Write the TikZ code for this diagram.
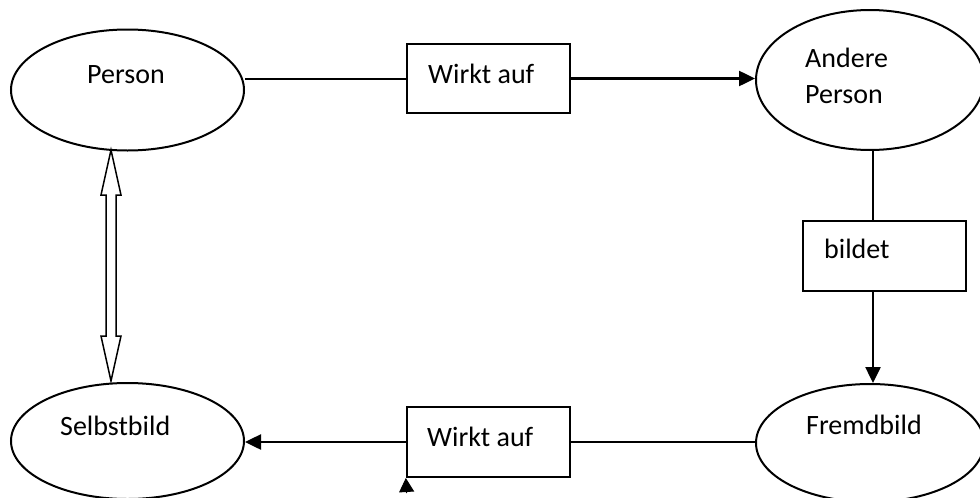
\documentclass[tikz,border=0pt]{standalone}
\usepackage{fontspec}
\setmainfont{Carlito}
\usetikzlibrary{arrows.meta,calc,shapes.geometric}
\tikzset{
  shape line/.style={draw=black,line width=2pt},
  blob/.style={shape line,ellipse,inner sep=0pt},
  labelbox/.style={shape line,rectangle,inner sep=0pt,minimum width=163pt},
  txt/.style={inner sep=0pt,anchor=base west,font=\fontsize{28}{36}\selectfont},
  plain/.style={line width=2pt},
  arr/.style={line width=2.5pt,-{Triangle[length=16pt,width=15pt]}},
}
\begin{document}
\begin{tikzpicture}[x=1pt,y=-1pt]
\useasboundingbox (0,0) rectangle (980,498);
% ellipses
\node[blob,minimum width=233pt,minimum height=121pt] (person) at (127.5,90) {};
\node[blob,minimum width=233pt,minimum height=116pt] (selbst) at (127.5,441) {};
\node[blob,minimum width=228pt,minimum height=140pt] (andere) at (870,80) {};
\node[blob,minimum width=228pt,minimum height=118pt] (fremd) at (870,443) {};
% boxes
\node[labelbox,minimum height=69pt] (wirk1) at (488.3,78.5) {};
\node[labelbox,minimum height=70pt] (bildet) at (884.5,256) {};
\node[labelbox,minimum height=70pt] (wirk2) at (488.3,442) {};
% texts
\node[txt] (tperson) at (87,83) {Person};
\node[txt] (tselbst) at (60,435) {Selbstbild};
\node[txt] (tandere1) at (805,67) {Andere};
\node[txt] (tandere2) at (805,103) {Person};
\node[txt] (tfremd) at (806,434) {Fremdbild};
\node[txt] (twirk1) at (428,83) {Wirkt auf};
\node[txt] (tbildet) at (824,258) {bildet};
\node[txt] (twirk2) at (427,446) {Wirkt auf};
% connectors
\coordinate (vx) at (873,0);
\draw[plain] (wirk1.west) -- (wirk1.west -| person.east);
\draw[arr] (wirk1.east) -- (wirk1.east -| andere.west);
\draw[plain] (bildet.north -| vx) -- (andere.south -| vx);
\draw[arr] (bildet.south -| vx) -- (fremd.north -| vx);
\draw[plain] (wirk2.east) -- (wirk2.east -| fremd.west);
\draw[arr] (wirk2.west) -- (wirk2.west -| selbst.east);
% hollow double arrow between Person and Selbstbild
\coordinate (tA) at (111,150);
\coordinate (tB) at (111,381);
\draw[line width=1.5pt,fill=white,line join=miter]
  (tA) -- ++(10,45) -- ++(-5,0) -- ($(tB)+(5,-45)$) -- ++(5,0) -- (tB)
  -- ++(-10,-45) -- ++(5,0) -- ($(tA)+(-5,45)$) -- ++(-5,0) -- cycle;
% small arrowhead under the lower box
\coordinate (sA) at (406.7,493);
\draw[line width=1pt,-{Triangle[length=14pt,width=15pt]}] (sA) -- (wirk2.south west);
\end{tikzpicture}
\end{document}
